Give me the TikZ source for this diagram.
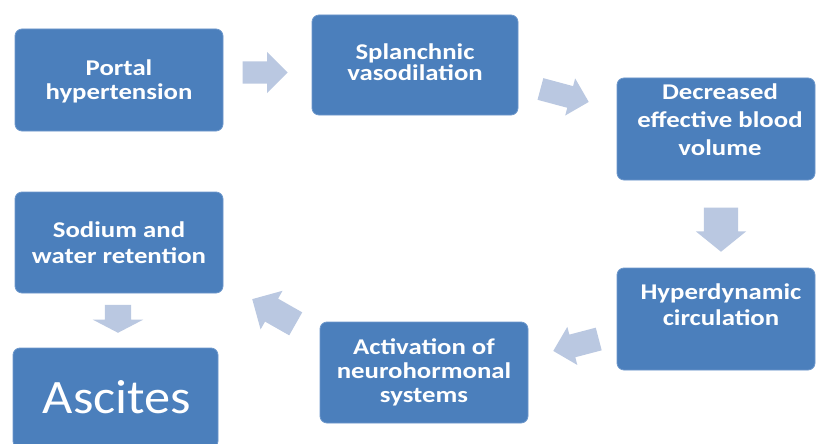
\documentclass[tikz,border=0pt]{standalone}
\usepackage{fontspec}
\setmainfont{Carlito}
\newfontfamily\boxfont{Carlito}[FakeStretch=1.19]
\newfontfamily\bigfont{Carlito}[FakeStretch=1.09]
\usetikzlibrary{shapes.arrows}
\definecolor{boxblue}{RGB}{75,127,188}
\definecolor{boxedge}{RGB}{110,152,204}
\definecolor{arrowblue}{RGB}{186,200,225}
\begin{document}
\begin{tikzpicture}[x=1pt,y=-1pt,
  box/.style={rectangle, rounded corners=7pt, fill=boxblue, draw=boxedge, line width=0.8pt, inner sep=0pt},
  txt/.style={text=white, align=center, inner sep=0pt, font=\boxfont\bfseries\fontsize{22.5}{#1}\selectfont},
  txt/.default=25,
  blk/.style={single arrow, fill=arrowblue, inner sep=0pt, text height=#1/2, text depth=#1/2, anchor=tip},
]
\useasboundingbox (0,0) rectangle (817,444);
\fill[white] (0,0) rectangle (817,444);
\begin{scope}
\clip (0,0) rectangle (817,444);
% boxes
\node[box, minimum width=208pt, minimum height=102pt] (portal) at (119,80) {};
\node[box, minimum width=206pt, minimum height=100pt] (splanch) at (415,65) {};
\node[box, minimum width=198pt, minimum height=102pt] (decr) at (716,129) {};
\node[box, minimum width=198pt, minimum height=102pt] (hyper) at (716,319) {};
\node[box, minimum width=208pt, minimum height=101pt] (activ) at (424,372.5) {};
\node[box, minimum width=208pt, minimum height=101pt] (sodium) at (119,242.5) {};
\node[box, minimum width=205pt, minimum height=100pt] (ascites) at (115.5,398) {};
\end{scope}
% texts
\node[txt=24] (portaltxt) at (portal.center) [yshift=-1pt] {Portal\\hypertension};
\node[txt=21] (splanchtxt) at (splanch.center) [yshift=3pt] {Splanchnic\\vasodilation};
\node[txt=28] (decrtxt) at (720,120) {Decreased\\effective blood\\volume};
\node[txt=26] (hypertxt) at (721,305) {Hyperdynamic\\circulation};
\node[txt=24] (activtxt) at (424,372) {Activation of\\neurohormonal\\systems};
\node[txt=26] (sodiumtxt) at (119,243) {Sodium and\\water retention};
\node[text=white, inner sep=0pt, font=\bigfont\fontsize{48}{56}\selectfont] (ascitestxt) at (117,397.5) {Ascites};
% block arrows (placed by their tips)
\node[blk=22pt, minimum height=45pt, single arrow head extend=9.5pt] (a1) at (288,72.5) {};
\node[blk=22pt, minimum height=50pt, single arrow head extend=8pt, rotate=-15] (a2) at (589,102) {};
\node[blk=34pt, minimum height=44pt, single arrow head extend=8pt, single arrow tip angle=102, rotate=-90] (a3) at (721,252) {};
\node[blk=23pt, minimum height=47pt, single arrow head extend=8pt, rotate=194.7] (a4) at (553,351) {};
\node[blk=26pt, minimum height=50pt, single arrow head extend=9pt, rotate=150.4] (a5) at (252,299) {};
\node[blk=26pt, minimum height=28pt, single arrow head extend=12pt, single arrow tip angle=125, rotate=-90] (a6) at (118,333) {};
\end{tikzpicture}
\end{document}
